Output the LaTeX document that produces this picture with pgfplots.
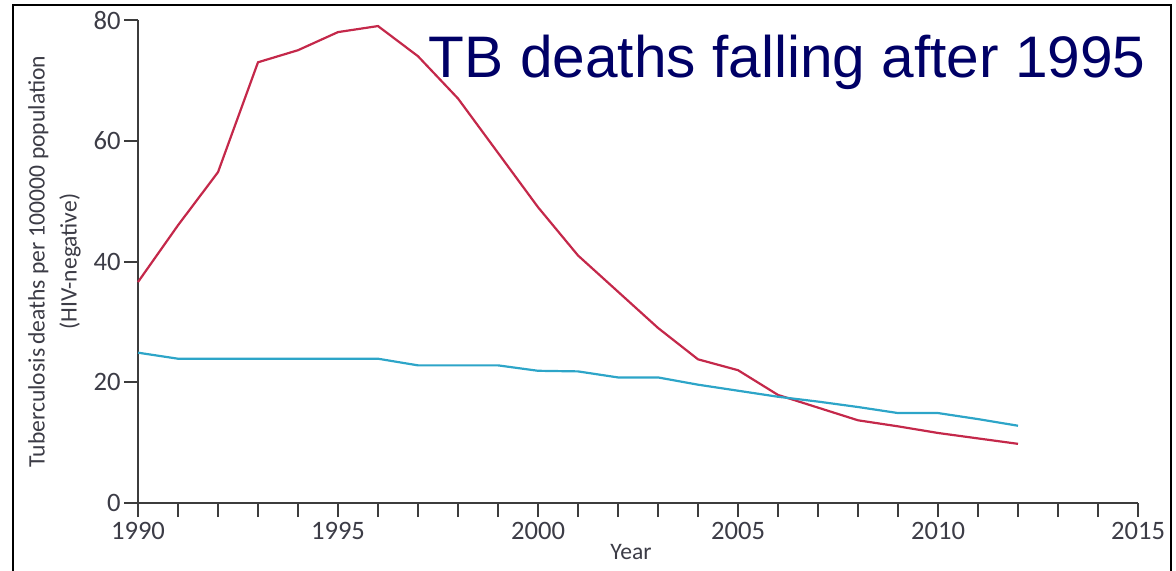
\documentclass[border=0pt]{standalone}
\usepackage{pgfplots}
\pgfplotsset{compat=1.18}
\usepackage{fontspec}
\setmainfont{Carlito}
\newfontfamily\arialfont{Liberation Sans}
\definecolor{tbred}{RGB}{196,40,74}
\definecolor{tbblue}{RGB}{45,165,200}
\definecolor{axgray}{RGB}{60,60,60}
\definecolor{txtgray}{RGB}{60,60,70}
\definecolor{navy}{RGB}{0,0,102}
\begin{document}
\begin{tikzpicture}
\path[use as bounding box] (-69pt,-33.5pt) rectangle (519pt,251.5pt);
\begin{axis}[
  scale only axis, width=500pt, height=241.5pt,
  xmin=1990, xmax=2015, ymin=0, ymax=80,
  axis x line*=bottom, axis y line*=left,
  axis line style={axgray, line width=1pt, -},
  every tick/.style={axgray, line width=1pt},
  tick align=outside,
  major tick length=7pt, minor tick length=7pt,
  xtick={1990,1995,...,2015},
  minor xtick={1991,1992,...,2014},
  ytick={0,20,40,60,80},
  /pgf/number format/1000 sep={},
  /pgf/number format/assume math mode=true,
  tick label style={font=\fontsize{13.3}{15}\selectfont, text=txtgray},
  yticklabel style={inner sep=0pt, xshift=-1.5pt},
  xticklabel style={inner sep=0pt, yshift=-2.5pt},
  xlabel={Year},
  xlabel style={font=\fontsize{11.8}{13}\selectfont, text=txtgray, at={(axis description cs:0.493,0)}, anchor=center, yshift=-24.5pt},
  ylabel={Tuberculosis\,deaths per 100000 population\\(HIV-negative)},
  ylabel style={font=\fontsize{11.8}{16}\selectfont, text=txtgray, align=center, at={(axis description cs:-0.0835,0.5)}, anchor=center},
  clip=false,
]
\addplot[tbred, line width=1.1pt] coordinates {
(1990,36.6) (1991,46) (1992,54.8) (1993,73) (1994,75) (1995,78) (1996,79)
(1997,74) (1998,67) (1999,58) (2000,49) (2001,41) (2002,35) (2003,29)
(2004,23.8) (2005,22) (2006,17.9) (2007,15.8) (2008,13.7) (2009,12.7)
(2010,11.6) (2011,10.7) (2012,9.8)};
\addplot[tbblue, line width=1.1pt] coordinates {
(1990,24.9) (1991,23.9) (1992,23.9) (1993,23.9) (1994,23.9) (1995,23.9) (1996,23.9)
(1997,22.8) (1998,22.8) (1999,22.8) (2000,21.9) (2001,21.8) (2002,20.8) (2003,20.8)
(2004,19.6) (2005,18.6) (2006,17.6) (2007,16.8) (2008,15.9) (2009,14.9)
(2010,14.9) (2011,13.9) (2012,12.8)};
\end{axis}
\draw[black, line width=1pt] (-62.5pt,-40pt) -- (-62.5pt,249pt) -- (516.5pt,249pt) -- (516.5pt,-40pt);
\node[anchor=base east, inner sep=0pt, text=navy, font=\arialfont\fontsize{29.3}{32}\selectfont] at (504pt,213pt) {TB deaths falling after 1995};
\end{tikzpicture}
\end{document}
